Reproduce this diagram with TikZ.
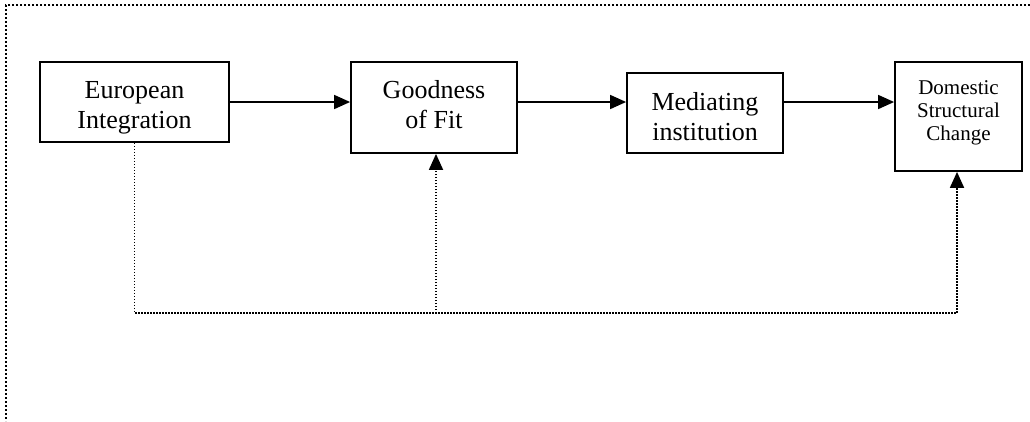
\documentclass[tikz,border=0pt]{standalone}
\usepackage{fontspec}
\setmainfont{Liberation Serif}
\usetikzlibrary{arrows.meta}
\begin{document}
\begin{tikzpicture}[x=1pt,y=-1pt,
  box/.style={draw, line width=1.8pt, inner sep=0pt},
  txt/.style={align=center, inner sep=0pt, font=\fontsize{26}{30}\selectfont},
  smalltxt/.style={align=center, inner sep=0pt, font=\fontsize{21}{23}\selectfont},
  flow/.style={line width=1.6pt, -{Triangle[length=16pt,width=14pt]}},
  fb/.style={line width=1.8pt, dash pattern=on 1.4pt off 1.6pt},
  fbarrow/.style={fb, -{Triangle[length=16pt,width=14pt]}},
  frame/.style={line width=2pt, dash pattern=on 1.8pt off 2.2pt}]
\useasboundingbox (0,0) rectangle (1030,421);
\draw[frame] (1030,5) -- (6,5) -- (6,421);
% boxes
\node[box, minimum width=189pt, minimum height=80pt] (e) at (134.5,102) {};
\node[box, minimum width=166pt, minimum height=91pt] (g) at (434,107.5) {};
\node[box, minimum width=156pt, minimum height=80pt] (m) at (705,113) {};
\node[box, minimum width=127pt, minimum height=109pt] (d) at (958.5,116.5) {};
% texts
\node[txt] (et) at (134.5,108) {European\\Integration};
\node[txt] (gt) at (434,105) {Goodness\\of Fit};
\node[txt] (mt) at (705,117) {Mediating\\institution};
\node[smalltxt] (dt) at (958.5,113) {Domestic\\Structural\\Change};
% flow arrows
\draw[flow] (e.east) -- (e.east -| g.west);
\draw[flow] (g.east |- e.east) -- (m.west |- e.east);
\draw[flow] (m.east |- e.east) -- (d.west |- e.east);
% feedback
\coordinate (c2) at (436,313);
\coordinate (c3) at (957,313);
\draw[fbarrow] (e.south) |- (c3) -- (d.south -| c3);
\draw[fbarrow] (c2) -- (g.south -| c2);
\end{tikzpicture}
\end{document}
